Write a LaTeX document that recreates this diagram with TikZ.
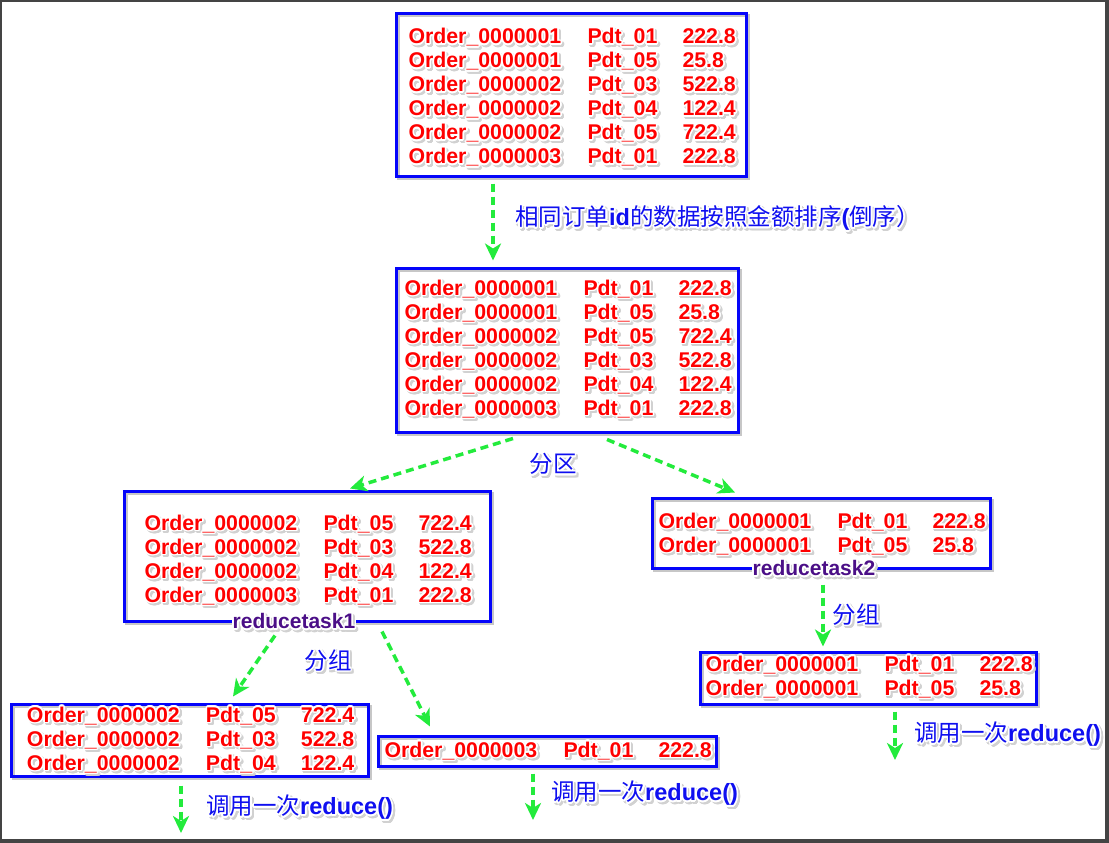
\documentclass[tikz,border=0pt]{standalone}
\usepackage{fontspec}
\setmainfont{Liberation Sans}
\newfontfamily\cjk{Noto Sans CJK SC}
\usepackage{contour}
\contourlength{1.6pt}
\usetikzlibrary{arrows.meta}
\definecolor{boxblue}{RGB}{5,5,250}
\definecolor{lblblue}{RGB}{15,15,240}
\definecolor{arrowgreen}{RGB}{35,235,60}
\definecolor{taskpurple}{RGB}{75,15,135}
\definecolor{framegray}{RGB}{68,68,68}
% text with white glow and soft shadow
\newcommand\fx[1]{\makebox[0pt][l]{\hspace{2pt}\raisebox{-2pt}{\textcolor{black!18}{\contour{black!18}{#1}}}}\contour{white}{#1}}
\newcommand\rec[3]{\fx{Order\_000000#1} & \fx{Pdt\_#2} & \fx{#3}\\}
\newcommand\recs[2][0pt]{\raisebox{-#1}[\height][\depth]{\begin{tabular}{@{}p{179pt}@{}p{95pt}@{}p{52pt}@{}}#2\end{tabular}}}

\begin{document}
\begin{tikzpicture}[x=1pt,y=-1pt,
  box/.style={draw=boxblue, line width=3pt, inner sep=0pt, text=red,
    font=\fontsize{21.3}{24}\selectfont\bfseries,
    preaction={draw=black!22, line width=3pt, transform canvas={shift={(2pt,-2pt)}}}},
  flow/.style={draw=arrowgreen, line width=3.5pt, dash pattern=on 8pt off 5pt,
    -{Stealth[length=17pt,width=16pt,inset=5pt]}},
  lbl/.style={text=lblblue, inner sep=0pt, font=\fontsize{23.5}{26}\selectfont},
  task/.style={text=taskpurple, fill=white, inner sep=1pt, font=\fontsize{21}{24}\selectfont\bfseries}]
 \fill[framegray] (0,0) rectangle (1109,843);
 \fill[white] (2,2) rectangle (1105,839);
 \useasboundingbox (0,0) rectangle (1109,843);

 \node[box, minimum width=350, minimum height=163] (A) at (571.5,95)
  {\recs[4pt]{\rec1{01}{222.8}\rec1{05}{25.8}\rec2{03}{522.8}\rec2{04}{122.4}\rec2{05}{722.4}\rec3{01}{222.8}}};
 \node[box, minimum width=342, minimum height=164] (B) at (567.5,350.5)
  {\recs{\rec1{01}{222.8}\rec1{05}{25.8}\rec2{05}{722.4}\rec2{03}{522.8}\rec2{04}{122.4}\rec3{01}{222.8}}};
 \node[box, minimum width=366, minimum height=130] (C) at (307.5,556.5)
  {\recs[5pt]{\rec2{05}{722.4}\rec2{03}{522.8}\rec2{04}{122.4}\rec3{01}{222.8}}};
 \node[box, minimum width=338, minimum height=70] (D) at (821.5,533.5)
  {\recs[2pt]{\rec1{01}{222.8}\rec1{05}{25.8}}};
 \node[box, minimum width=357, minimum height=72] (E) at (190,740.5)
  {\recs[1pt]{\rec2{05}{722.4}\rec2{03}{522.8}\rec2{04}{122.4}}};
 \node[box, minimum width=338, minimum height=30] (F) at (547.5,751.5)
  {\recs[1pt]{\rec3{01}{222.8}}};
 \node[box, minimum width=336, minimum height=52] (G) at (868.5,678.5)
  {\recs{\rec1{01}{222.8}\rec1{05}{25.8}}};

 \node[task] (rt1) at ([xshift=-13.5pt]C.south) {\fx{reducetask1}};
 \node[task] (rt2) at ([xshift=-7.5pt]D.south) {\fx{reducetask2}};

 \coordinate (Eend) at (181,833);
 \coordinate (Fend) at (533,820);
 \coordinate (Gend) at (895,760);

 \path[flow] ([xshift=-78.5pt,yshift=-5.5pt]A.south) -- ([xshift=-74.5pt,yshift=6.5pt]B.north);
 \path[flow] ([xshift=-54.5pt,yshift=-4.5pt]B.south) -- ([xshift=42.5pt,yshift=1.5pt]C.north);
 \path[flow] ([xshift=39.5pt,yshift=-5.5pt]B.south) -- ([xshift=-86.5pt,yshift=4.5pt]D.north);
 \path[flow] ([xshift=-32.5pt,yshift=-12.5pt]C.south) -- ([xshift=43pt,yshift=6.5pt]E.north);
 \path[flow] ([xshift=74.5pt,yshift=-8.5pt]C.south) -- ([xshift=-117.5pt,yshift=8.5pt]F.north);
 \path[flow] ([xshift=1.5pt,yshift=-14.5pt]D.south) -- ([xshift=-45.5pt,yshift=4.5pt]G.north);
 \path[flow] ([xshift=-9pt,yshift=-7.5pt]E.south) -- (Eend);
 \path[flow] ([xshift=-14.5pt,yshift=-5.5pt]F.south) -- (Fend);
 \path[flow] ([xshift=26.5pt,yshift=-5.5pt]G.south) -- (Gend);

 \node[lbl, anchor=west] (sortlbl) at (515,220)
  {\fx{{\cjk 相同订单}\textbf{id}{\cjk 的数据按照金额排序}\textbf{(}{\cjk 倒序）}}};
 \node[lbl] (partlbl) at (553,466) {\fx{\cjk 分区}};
 \node[lbl] (grp1) at (328,662) {\fx{\cjk 分组}};
 \node[lbl] (grp2) at (856,616) {\fx{\cjk 分组}};
 \node[lbl, anchor=west] (call1) at (206,809) {\fx{{\cjk 调用一次}\textbf{reduce()}}};
 \node[lbl, anchor=west] (call2) at (551,795) {\fx{{\cjk 调用一次}\textbf{reduce()}}};
 \node[lbl, anchor=west] (call3) at (914,736) {\fx{{\cjk 调用一次}\textbf{reduce()}}};
\end{tikzpicture}
\end{document}
